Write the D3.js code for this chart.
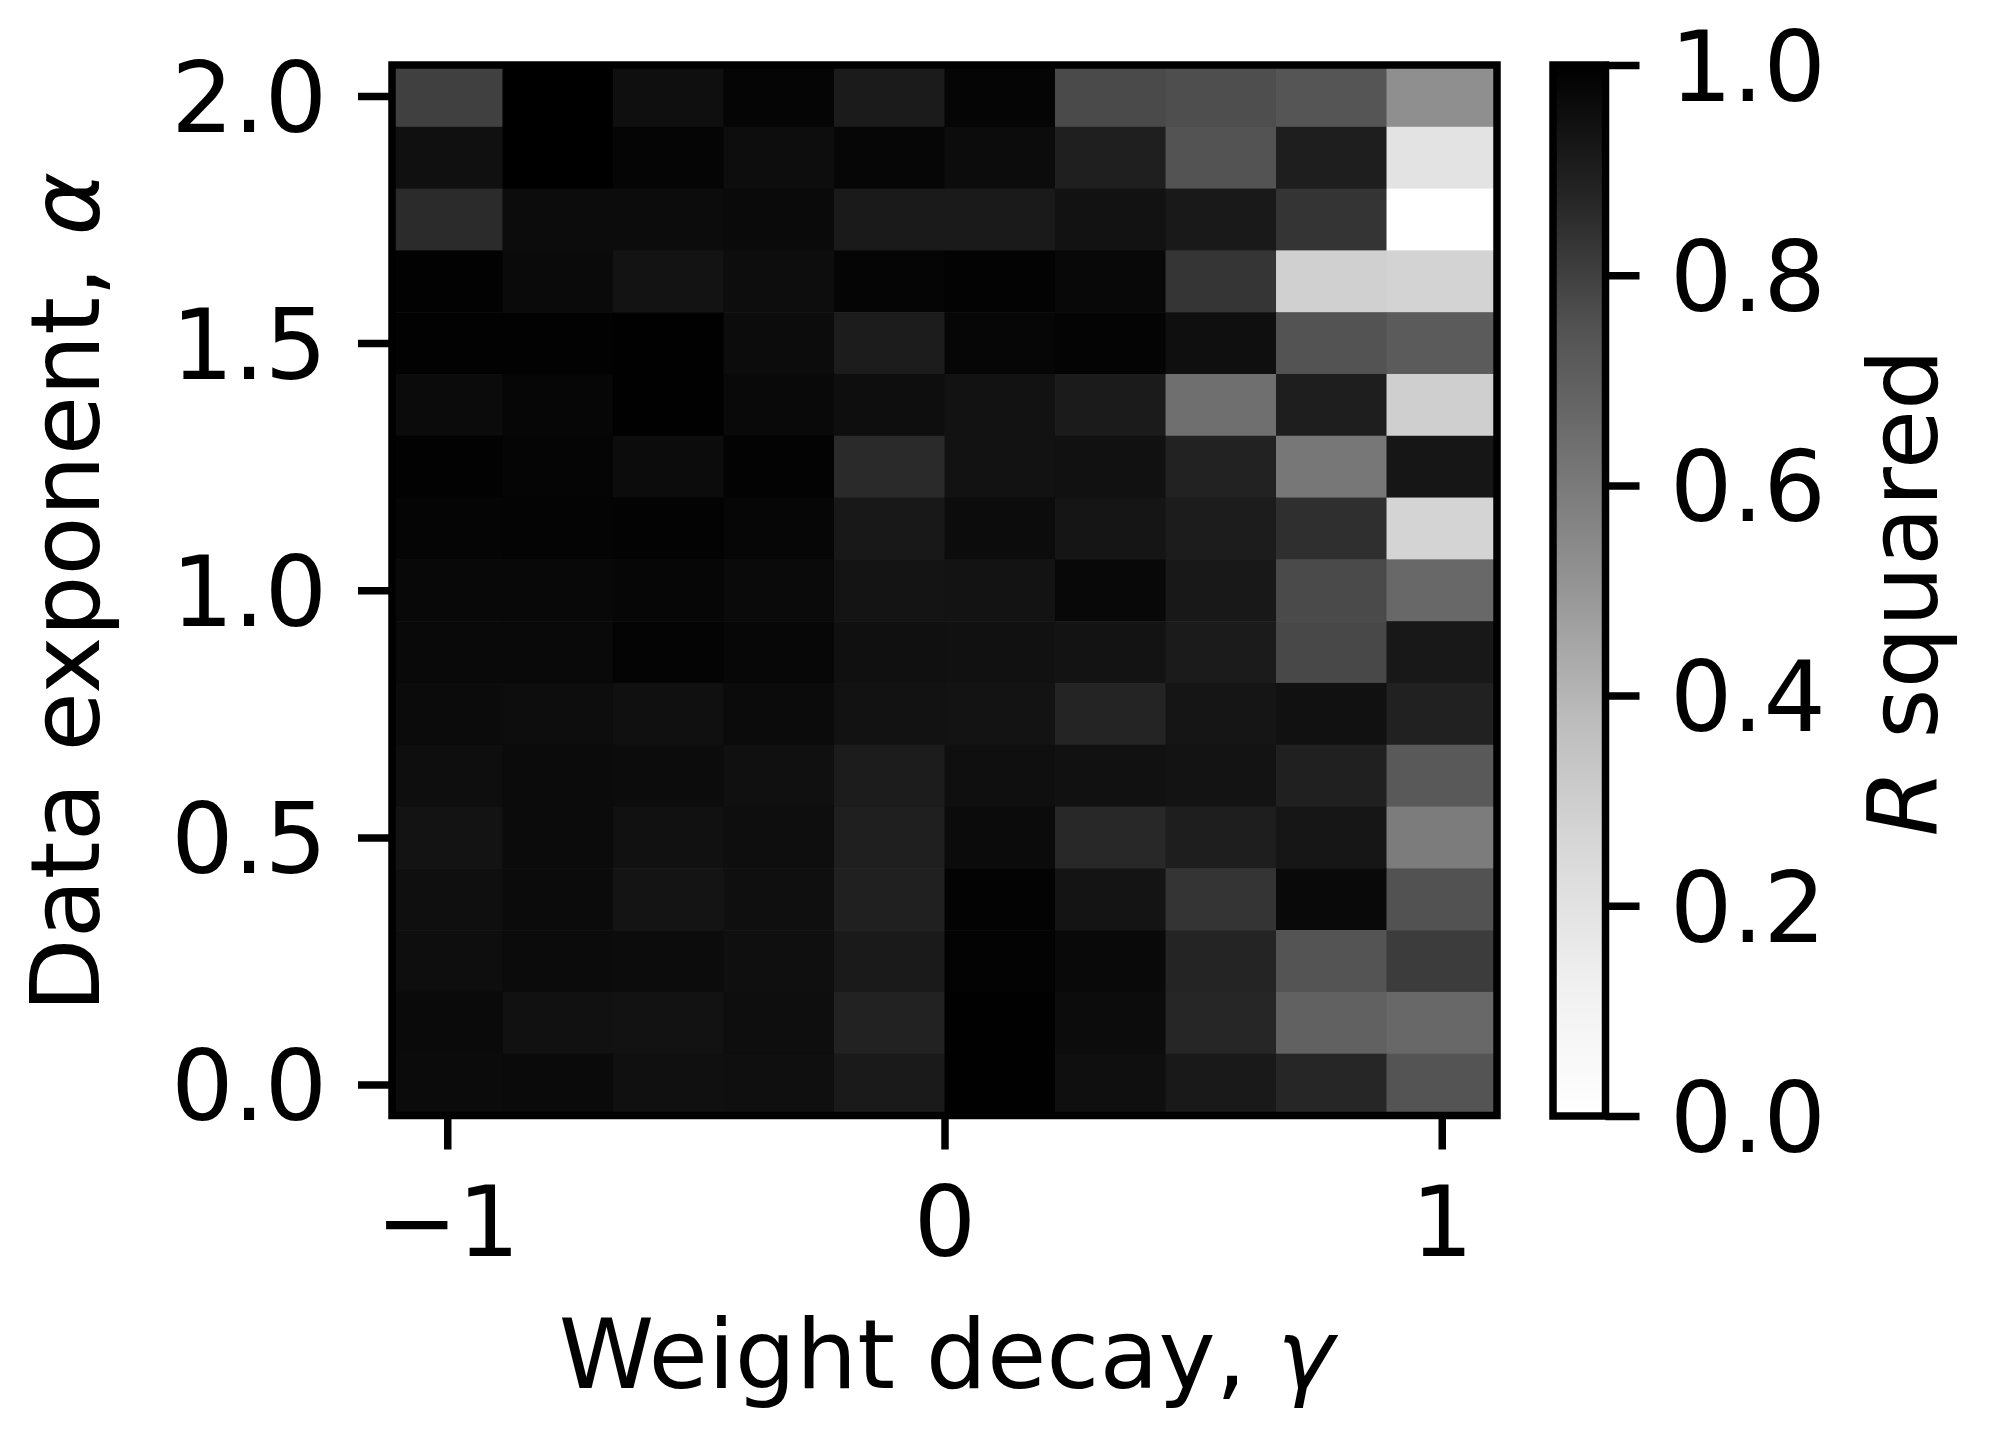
<!DOCTYPE html>
<html>
<head>
<meta charset="utf-8">
<script src="https://cdn.jsdelivr.net/npm/d3@7"></script>
<style>
  body { margin: 0; background: #fff; }
  svg { display: block; }
  text { font-family: "DejaVu Sans", sans-serif; fill: #000; }
</style>
</head>
<body>
<svg id="chart" width="2000" height="1449"></svg>
<script>
// ---- data ----
const gammaValues = [-1, -0.7778, -0.5556, -0.3333, -0.1111, 0.1111, 0.3333, 0.5556, 0.7778, 1];
const alphaValues = [2.0, 1.875, 1.75, 1.625, 1.5, 1.375, 1.25, 1.125, 1.0, 0.875, 0.75, 0.625, 0.5, 0.375, 0.25, 0.125, 0.0];
// R squared, one row per alpha (same order as alphaValues), one column per gamma
const rSquared = [
  [0.800, 1.000, 0.949, 0.983, 0.909, 0.983, 0.772, 0.761, 0.739, 0.525],
  [0.946, 1.000, 0.983, 0.956, 0.980, 0.959, 0.895, 0.746, 0.899, 0.196],
  [0.858, 0.959, 0.959, 0.966, 0.912, 0.912, 0.939, 0.916, 0.833, 0.000],
  [0.993, 0.966, 0.936, 0.956, 0.983, 0.990, 0.973, 0.831, 0.290, 0.277],
  [0.993, 0.993, 0.997, 0.959, 0.905, 0.980, 0.986, 0.949, 0.746, 0.716],
  [0.963, 0.980, 0.997, 0.970, 0.953, 0.939, 0.909, 0.640, 0.899, 0.295],
  [0.993, 0.983, 0.959, 0.990, 0.861, 0.939, 0.943, 0.885, 0.611, 0.926],
  [0.983, 0.986, 0.990, 0.980, 0.919, 0.959, 0.929, 0.905, 0.847, 0.272],
  [0.973, 0.973, 0.980, 0.966, 0.932, 0.936, 0.973, 0.919, 0.772, 0.667],
  [0.970, 0.970, 0.986, 0.976, 0.946, 0.943, 0.936, 0.909, 0.778, 0.919],
  [0.963, 0.956, 0.946, 0.963, 0.939, 0.936, 0.878, 0.929, 0.943, 0.889],
  [0.953, 0.963, 0.959, 0.946, 0.905, 0.949, 0.943, 0.936, 0.892, 0.723],
  [0.936, 0.963, 0.943, 0.953, 0.895, 0.963, 0.867, 0.899, 0.926, 0.593],
  [0.949, 0.963, 0.932, 0.949, 0.892, 0.990, 0.932, 0.833, 0.970, 0.750],
  [0.953, 0.963, 0.959, 0.949, 0.912, 0.990, 0.970, 0.878, 0.742, 0.811],
  [0.966, 0.943, 0.939, 0.953, 0.885, 0.997, 0.959, 0.872, 0.693, 0.667],
  [0.963, 0.966, 0.946, 0.949, 0.912, 0.997, 0.949, 0.916, 0.872, 0.742]
];
const xTicks = [-1, 0, 1];
const xTickLabels = ["\u22121", "0", "1"];
const yTicks = [0, 0.5, 1.0, 1.5, 2.0];
const yTickLabels = ["0.0", "0.5", "1.0", "1.5", "2.0"];
const cbTicks = [0, 0.2, 0.4, 0.6, 0.8, 1.0];
const cbTickLabels = ["0.0", "0.2", "0.4", "0.6", "0.8", "1.0"];
const xLabel = "Weight decay, ";
const xLabelSym = "\u03B3";
const yLabel = "Data exponent, ";
const yLabelSym = "\u03B1";
const cbLabelSym = "R";
const cbLabel = " squared";

// ---- style / layout ----
const FONT = 98;
const LABEL_FONT = 96.5;
const LW = 7.5;
const TICK = 34;
const greysColors = ["#ffffff", "#f0f0f0", "#d9d9d9", "#bdbdbd", "#969696", "#737373", "#525252", "#252525", "#000000"];
const plot = { left: 392, right: 1497, top: 65, bottom: 1115.5 };
const cb = { left: 1553, right: 1605.5, top: 65, bottom: 1116 };

const svg = d3.select("#chart");

const dG = gammaValues[1] - gammaValues[0];
const dA = alphaValues[0] - alphaValues[1];
const x = d3.scaleLinear()
  .domain([d3.min(gammaValues) - dG / 2, d3.max(gammaValues) + dG / 2])
  .range([plot.left, plot.right]);
const y = d3.scaleLinear()
  .domain([d3.min(alphaValues) - dA / 2, d3.max(alphaValues) + dA / 2])
  .range([plot.bottom, plot.top]);
const color = d3.scaleLinear()
  .domain(d3.range(greysColors.length).map(i => i / (greysColors.length - 1)))
  .range(greysColors)
  .clamp(true);

// cells
const cells = [];
alphaValues.forEach((a, i) => gammaValues.forEach((g, j) => cells.push({ a, g, v: rSquared[i][j] })));
const cw = Math.abs(x(dG) - x(0));
const ch = Math.abs(y(0) - y(dA));
svg.append("g").selectAll("rect").data(cells).join("rect")
  .attr("x", d => x(d.g) - cw / 2)
  .attr("y", d => y(d.a) - ch / 2)
  .attr("width", cw + 0.6)
  .attr("height", ch + 0.6)
  .attr("fill", d => color(d.v));

// axes
function styleAxis(g) {
  g.select(".domain").remove();
  g.selectAll(".tick line").attr("stroke", "#000").attr("stroke-width", LW);
  g.selectAll(".tick text").attr("font-size", FONT).attr("font-family", "DejaVu Sans").attr("fill", "#000");
}
svg.append("g")
  .attr("transform", `translate(0,${plot.bottom})`)
  .call(d3.axisBottom(x).tickValues(xTicks).tickFormat((d, i) => xTickLabels[i]).tickSize(TICK).tickPadding(37))
  .call(styleAxis);
svg.append("g")
  .attr("transform", `translate(${plot.left},0)`)
  .call(d3.axisLeft(y).tickValues(yTicks).tickFormat((d, i) => yTickLabels[i]).tickSize(TICK).tickPadding(31))
  .call(styleAxis)
  .call(g => g.selectAll(".tick text").attr("dy", "0.36em"));

// frame
svg.append("rect")
  .attr("x", plot.left).attr("y", plot.top)
  .attr("width", plot.right - plot.left).attr("height", plot.bottom - plot.top)
  .attr("fill", "none").attr("stroke", "#000").attr("stroke-width", LW);

// axis labels
const xl = svg.append("text")
  .attr("x", (plot.left + plot.right) / 2 + 2).attr("y", 1388)
  .attr("text-anchor", "middle").attr("font-size", LABEL_FONT);
xl.append("tspan").text(xLabel);
xl.append("tspan").attr("font-style", "italic").text(xLabelSym);

const yl = svg.append("text")
  .attr("transform", `translate(99,${(plot.top + plot.bottom) / 2 + 2}) rotate(-90)`)
  .attr("text-anchor", "middle").attr("font-size", LABEL_FONT);
yl.append("tspan").text(yLabel);
yl.append("tspan").attr("font-style", "italic").text(yLabelSym);

// colorbar
const cbScale = d3.scaleLinear().domain([0, 1]).range([cb.bottom, cb.top]);
const defs = svg.append("defs");
const grad = defs.append("linearGradient").attr("id", "cbgrad")
  .attr("x1", 0).attr("y1", 1).attr("x2", 0).attr("y2", 0);
grad.selectAll("stop").data(color.domain()).join("stop")
  .attr("offset", d => d)
  .attr("stop-color", d => color(d));
svg.append("rect")
  .attr("x", cb.left).attr("y", cb.top)
  .attr("width", cb.right - cb.left).attr("height", cb.bottom - cb.top)
  .attr("fill", "url(#cbgrad)")
  .attr("stroke", "#000").attr("stroke-width", LW);
svg.append("g")
  .attr("transform", `translate(${cb.right},0)`)
  .call(d3.axisRight(cbScale).tickValues(cbTicks).tickFormat((d, i) => cbTickLabels[i]).tickSize(TICK).tickPadding(30.5))
  .call(styleAxis)
  .call(g => g.selectAll(".tick text").attr("dy", "0.36em"));

const cl = svg.append("text")
  .attr("transform", `translate(1937,${(cb.top + cb.bottom) / 2 + 2}) rotate(-90)`)
  .attr("text-anchor", "middle").attr("font-size", LABEL_FONT);
cl.append("tspan").attr("font-style", "italic").text(cbLabelSym);
cl.append("tspan").text(cbLabel);
</script>
</body>
</html>
